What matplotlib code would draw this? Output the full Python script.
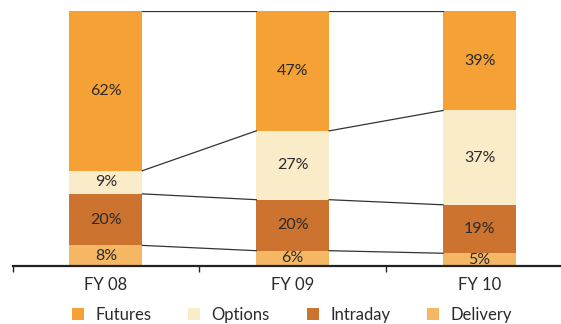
import numpy as np
import matplotlib.pyplot as plt
from matplotlib.lines import Line2D

plt.rcParams['font.family'] = ['Lato', 'DejaVu Sans']

years = ["FY 08", "FY 09", "FY 10"]
segments = ["Delivery", "Intraday", "Options", "Futures"]
delivery = [8, 6, 5]
intraday = [20, 20, 19]
options = [9, 27, 37]
futures = [62, 47, 39]
colors = {"Futures": "#f5a135", "Options": "#faebc9",
          "Intraday": "#cc732f", "Delivery": "#f4b764"}

vals = np.array([delivery, intraday, options, futures], dtype=float)
share = vals / vals.sum(axis=0) * 100  # each year stacked to 100%

fig = plt.figure(figsize=(5.61, 3.24), dpi=100)
ax = fig.add_axes([12.5 / 561, 58 / 324, 560.5 / 561, 255 / 324])

x = np.arange(len(years))
w = 0.39
bottom = np.zeros(len(years))
for name, raw, sh in zip(segments, vals, share):
    ax.bar(x, sh, w, bottom=bottom, color=colors[name], linewidth=0)
    for i in range(len(years)):
        ax.text(x[i], bottom[i] + sh[i] / 2, "{:d}%".format(int(raw[i])),
                ha="center", va="center", fontsize=11.5, color="#2a2a2a",
                clip_on=True)
    bottom += sh

# connector lines between the bars at each boundary
cum = np.cumsum(share, axis=0)
for level in cum:
    for i in range(len(years) - 1):
        ax.plot([x[i] + w / 2, x[i + 1] - w / 2], [level[i], level[i + 1]],
                color="#333333", lw=0.9)

ax.set_xlim(-0.5, 2.5)
ax.set_ylim(0, 100)
for s in ["top", "right", "left"]:
    ax.spines[s].set_visible(False)
ax.spines["bottom"].set_linewidth(1.6)
ax.spines["bottom"].set_color("#222222")
ax.set_yticks([])
ax.set_xticks(x)
ax.set_xticklabels(years, fontsize=12, color="#2a2a2a")
ax.tick_params(axis="x", which="major", length=0, pad=8)
ax.set_xticks([-0.5, 0.5, 1.5], minor=True)
ax.tick_params(axis="x", which="minor", length=4, width=1, color="#222222",
               direction="out")

handles = [Line2D([], [], marker="s", linestyle="", markersize=8.6,
                  markerfacecolor=colors[n], markeredgewidth=0)
           for n in ["Futures", "Options", "Intraday", "Delivery"]]
fig.legend(handles, ["Futures", "Options", "Intraday", "Delivery"],
           loc="center", bbox_to_anchor=(292 / 561, 1 - 315 / 324), ncol=4,
           frameon=False, fontsize=12, handlelength=0.72, handletextpad=0.7,
           columnspacing=2.2, labelcolor="#2a2a2a")

plt.savefig("out.png", dpi=100)
